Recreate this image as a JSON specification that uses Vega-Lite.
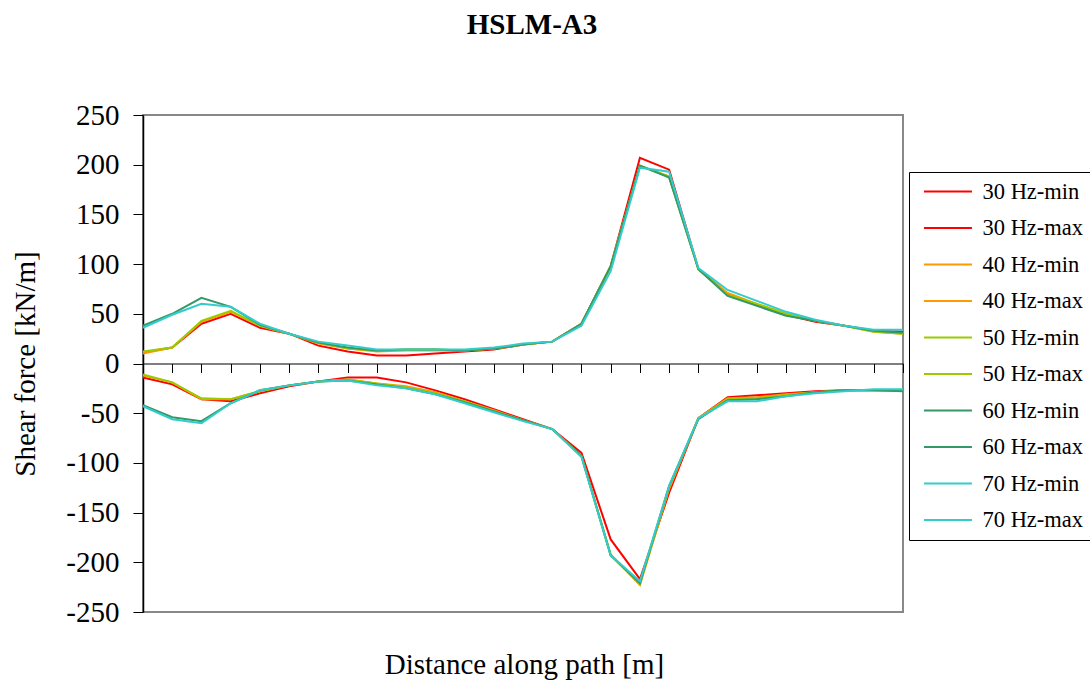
{
  "$schema": "https://vega.github.io/schema/vega-lite/v6.json",
  "width": 760,
  "height": 497,
  "autosize": {"type": "none"},
  "padding": {"left": 143, "top": 115, "right": 187, "bottom": 76},
  "background": "white",
  "title": {"text": "HSLM-A3", "font": "Liberation Serif", "fontSize": 29, "fontWeight": "bold", "color": "black", "anchor": "middle", "dx": 9, "offset": 61},
  "config": {
    "view": {"stroke": "#888888", "strokeWidth": 2},
    "font": "Liberation Serif"
  },
  "data": {"values": [
    {"d":0,"30 Hz-min":-14,"30 Hz-max":11,"40 Hz-min":-12,"40 Hz-max":10,"50 Hz-min":-11,"50 Hz-max":12,"60 Hz-min":-42,"60 Hz-max":38,"70 Hz-min":-43,"70 Hz-max":36},
    {"d":1,"30 Hz-min":-21,"30 Hz-max":16,"40 Hz-min":-19,"40 Hz-max":16,"50 Hz-min":-19,"50 Hz-max":16,"60 Hz-min":-54,"60 Hz-max":50,"70 Hz-min":-56,"70 Hz-max":49},
    {"d":2,"30 Hz-min":-36,"30 Hz-max":40,"40 Hz-min":-36,"40 Hz-max":42,"50 Hz-min":-35,"50 Hz-max":43,"60 Hz-min":-58,"60 Hz-max":66,"70 Hz-min":-60,"70 Hz-max":60},
    {"d":3,"30 Hz-min":-38,"30 Hz-max":50,"40 Hz-min":-36,"40 Hz-max":52,"50 Hz-min":-36,"50 Hz-max":53,"60 Hz-min":-40,"60 Hz-max":57,"70 Hz-min":-40,"70 Hz-max":57},
    {"d":4,"30 Hz-min":-30,"30 Hz-max":36,"40 Hz-min":-28,"40 Hz-max":38,"50 Hz-min":-28,"50 Hz-max":38,"60 Hz-min":-27,"60 Hz-max":39,"70 Hz-min":-27,"70 Hz-max":40},
    {"d":5,"30 Hz-min":-23,"30 Hz-max":30,"40 Hz-min":-22,"40 Hz-max":30,"50 Hz-min":-22,"50 Hz-max":30,"60 Hz-min":-22,"60 Hz-max":30,"70 Hz-min":-22,"70 Hz-max":30},
    {"d":6,"30 Hz-min":-18,"30 Hz-max":18,"40 Hz-min":-18,"40 Hz-max":20,"50 Hz-min":-18,"50 Hz-max":21,"60 Hz-min":-18,"60 Hz-max":21,"70 Hz-min":-18,"70 Hz-max":22},
    {"d":7,"30 Hz-min":-14,"30 Hz-max":12,"40 Hz-min":-16,"40 Hz-max":15,"50 Hz-min":-16,"50 Hz-max":15,"60 Hz-min":-17,"60 Hz-max":16,"70 Hz-min":-17,"70 Hz-max":18},
    {"d":8,"30 Hz-min":-14,"30 Hz-max":8,"40 Hz-min":-20,"40 Hz-max":12,"50 Hz-min":-20,"50 Hz-max":13,"60 Hz-min":-21,"60 Hz-max":13,"70 Hz-min":-22,"70 Hz-max":14},
    {"d":9,"30 Hz-min":-19,"30 Hz-max":8,"40 Hz-min":-23,"40 Hz-max":13,"50 Hz-min":-24,"50 Hz-max":14,"60 Hz-min":-25,"60 Hz-max":14,"70 Hz-min":-25,"70 Hz-max":14},
    {"d":10,"30 Hz-min":-27,"30 Hz-max":10,"40 Hz-min":-29,"40 Hz-max":13,"50 Hz-min":-30,"50 Hz-max":14,"60 Hz-min":-31,"60 Hz-max":14,"70 Hz-min":-31,"70 Hz-max":14},
    {"d":11,"30 Hz-min":-36,"30 Hz-max":12,"40 Hz-min":-38,"40 Hz-max":13,"50 Hz-min":-38,"50 Hz-max":13,"60 Hz-min":-39,"60 Hz-max":13,"70 Hz-min":-40,"70 Hz-max":14},
    {"d":12,"30 Hz-min":-46,"30 Hz-max":14,"40 Hz-min":-47,"40 Hz-max":15,"50 Hz-min":-48,"50 Hz-max":15,"60 Hz-min":-48,"60 Hz-max":15,"70 Hz-min":-49,"70 Hz-max":16},
    {"d":13,"30 Hz-min":-56,"30 Hz-max":19,"40 Hz-min":-57,"40 Hz-max":19,"50 Hz-min":-57,"50 Hz-max":19,"60 Hz-min":-57,"60 Hz-max":19,"70 Hz-min":-58,"70 Hz-max":20},
    {"d":14,"30 Hz-min":-66,"30 Hz-max":22,"40 Hz-min":-66,"40 Hz-max":22,"50 Hz-min":-66,"50 Hz-max":22,"60 Hz-min":-66,"60 Hz-max":22,"70 Hz-min":-66,"70 Hz-max":22},
    {"d":15,"30 Hz-min":-90,"30 Hz-max":40,"40 Hz-min":-93,"40 Hz-max":40,"50 Hz-min":-93,"50 Hz-max":40,"60 Hz-min":-93,"60 Hz-max":40,"70 Hz-min":-94,"70 Hz-max":38},
    {"d":16,"30 Hz-min":-177,"30 Hz-max":98,"40 Hz-min":-192,"40 Hz-max":98,"50 Hz-min":-193,"50 Hz-max":98,"60 Hz-min":-193,"60 Hz-max":98,"70 Hz-min":-193,"70 Hz-max":93},
    {"d":17,"30 Hz-min":-217,"30 Hz-max":207,"40 Hz-min":-223,"40 Hz-max":199,"50 Hz-min":-222,"50 Hz-max":199,"60 Hz-min":-221,"60 Hz-max":199,"70 Hz-min":-219,"70 Hz-max":197},
    {"d":18,"30 Hz-min":-130,"30 Hz-max":195,"40 Hz-min":-126,"40 Hz-max":188,"50 Hz-min":-124,"50 Hz-max":188,"60 Hz-min":-123,"60 Hz-max":187,"70 Hz-min":-123,"70 Hz-max":193},
    {"d":19,"30 Hz-min":-55,"30 Hz-max":95,"40 Hz-min":-55,"40 Hz-max":95,"50 Hz-min":-55,"50 Hz-max":95,"60 Hz-min":-56,"60 Hz-max":95,"70 Hz-min":-55,"70 Hz-max":96},
    {"d":20,"30 Hz-min":-34,"30 Hz-max":70,"40 Hz-min":-35,"40 Hz-max":71,"50 Hz-min":-36,"50 Hz-max":69,"60 Hz-min":-37,"60 Hz-max":68,"70 Hz-min":-38,"70 Hz-max":74},
    {"d":21,"30 Hz-min":-32,"30 Hz-max":59,"40 Hz-min":-34,"40 Hz-max":60,"50 Hz-min":-35,"50 Hz-max":60,"60 Hz-min":-36,"60 Hz-max":58,"70 Hz-min":-38,"70 Hz-max":63},
    {"d":22,"30 Hz-min":-30,"30 Hz-max":49,"40 Hz-min":-31,"40 Hz-max":50,"50 Hz-min":-32,"50 Hz-max":50,"60 Hz-min":-33,"60 Hz-max":48,"70 Hz-min":-33,"70 Hz-max":52},
    {"d":23,"30 Hz-min":-28,"30 Hz-max":42,"40 Hz-min":-29,"40 Hz-max":43,"50 Hz-min":-29,"50 Hz-max":43,"60 Hz-min":-29,"60 Hz-max":43,"70 Hz-min":-30,"70 Hz-max":44},
    {"d":24,"30 Hz-min":-27,"30 Hz-max":38,"40 Hz-min":-27,"40 Hz-max":38,"50 Hz-min":-27,"50 Hz-max":38,"60 Hz-min":-27,"60 Hz-max":38,"70 Hz-min":-28,"70 Hz-max":38},
    {"d":25,"30 Hz-min":-27,"30 Hz-max":33,"40 Hz-min":-27,"40 Hz-max":32,"50 Hz-min":-27,"50 Hz-max":32,"60 Hz-min":-27,"60 Hz-max":33,"70 Hz-min":-26,"70 Hz-max":34},
    {"d":26,"30 Hz-min":-27,"30 Hz-max":32,"40 Hz-min":-27,"40 Hz-max":30,"50 Hz-min":-27,"50 Hz-max":30,"60 Hz-min":-28,"60 Hz-max":31,"70 Hz-min":-26,"70 Hz-max":34}
  ]},
  "transform": [
    {"fold": ["30 Hz-min","30 Hz-max","40 Hz-min","40 Hz-max","50 Hz-min","50 Hz-max","60 Hz-min","60 Hz-max","70 Hz-min","70 Hz-max"], "as": ["series", "value"]}
  ],
  "mark": {"type": "line", "strokeWidth": 2},
  "encoding": {
    "x": {
      "field": "d", "type": "ordinal",
      "scale": {"type": "point", "padding": 0},
      "axis": {
        "title": "Distance along path [m]", "labels": false, "ticks": true, "tickSize": 9, "tickColor": "black", "tickWidth": 1,
        "domainColor": "black", "domainWidth": 1.2, "offset": -248.5,
        "titleFont": "Liberation Serif", "titleFontSize": 29, "titleFontWeight": "normal", "titleColor": "black",
        "titleX": 381, "titleY": 301, "titleBaseline": "middle", "titleAlign": "center"
      }
    },
    "y": {
      "field": "value", "type": "quantitative",
      "scale": {"domain": [-250, 250], "nice": false},
      "axis": {
        "title": "Shear force [kN/m]", "values": [-250,-200,-150,-100,-50,0,50,100,150,200,250],
        "labelExpr": "datum.value < 0 ? '-' + abs(datum.value) : '' + datum.value",
        "grid": false, "tickSize": 10, "tickColor": "black", "domainColor": "black", "domainWidth": 1.5,
        "labelFont": "Liberation Serif", "labelFontSize": 29, "labelColor": "black", "labelPadding": 14,
        "titleFont": "Liberation Serif", "titleFontSize": 29, "titleFontWeight": "normal", "titleColor": "black",
        "titleX": -118, "titleY": 248.5, "titleAngle": -90, "titleAlign": "center", "titleBaseline": "middle"
      }
    },
    "color": {
      "field": "series", "type": "nominal",
      "scale": {
        "domain": ["30 Hz-min","30 Hz-max","40 Hz-min","40 Hz-max","50 Hz-min","50 Hz-max","60 Hz-min","60 Hz-max","70 Hz-min","70 Hz-max"],
        "range": ["#FF0000","#FF0000","#FF9900","#FF9900","#99CC00","#99CC00","#339966","#339966","#33CCCC","#33CCCC"]
      },
      "legend": {
        "title": null, "orient": "none", "legendX": 766, "legendY": 57,
        "symbolType": "M-0.575,0H5.425", "symbolSize": 256, "symbolStrokeWidth": 2, "symbolFillColor": "transparent",
        "labelFont": "Liberation Serif", "labelFontSize": 22.5, "labelColor": "black", "labelOffset": 42.7, "labelLimit": 300,
        "rowPadding": 13.5, "padding": 8.3, "strokeColor": "black", "fillColor": "white"
      }
    }
  }
}
